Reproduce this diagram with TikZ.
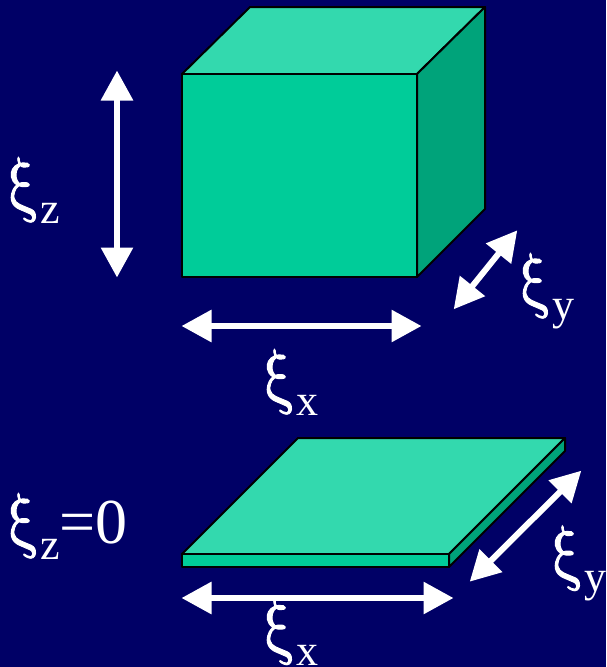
\documentclass[tikz,border=0pt]{standalone}
\usepackage{fontspec}
\setmainfont{Liberation Serif}
\newfontfamily\xifont[FakeBold=1.4,FakeStretch=0.82]{Latin Modern Math}
\usetikzlibrary{arrows.meta}
\definecolor{bgc}{HTML}{000066}
\definecolor{frontc}{HTML}{00CC99}
\definecolor{topc}{HTML}{33D9AE}
\definecolor{sidec}{HTML}{00A37A}
\tikzset{
  face/.style={draw=black,line width=2pt,line join=round},
  dimarrow/.style={draw=white,line width=6pt,{Triangle[length=30pt,width=31pt]}-{Triangle[length=30pt,width=31pt]}},
  lab/.style={text=white,inner sep=0pt,outer sep=0pt,anchor=base west,font=\fontsize{64}{64}\selectfont},
}
\newcommand{\xisym}{\makebox[33pt][l]{\xifont\fontsize{72}{72}\selectfont ξ}}
\newcommand{\subs}[1]{\raisebox{-15.5pt}{\fontsize{44}{44}\selectfont #1}}
\begin{document}
\begin{tikzpicture}[x=1pt,y=-1pt]
\useasboundingbox (0,0) rectangle (606,667);
\fill[bgc] (0,0) rectangle (606,667);
% cube
\draw[face,fill=topc] (182,74) -- (250,7) -- (485,7) -- (417,74) -- cycle;
\draw[face,fill=sidec] (417,74) -- (485,7) -- (485,209) -- (417,277) -- cycle;
\draw[face,fill=frontc] (182,74) rectangle (417,277);
% plate
\draw[face,fill=topc] (182,554) -- (298,438) -- (565,438) -- (449,554) -- cycle;
\draw[face,fill=sidec] (449,554) -- (565,438) -- (565,451) -- (449,567) -- cycle;
\draw[face,fill=frontc] (182,554) rectangle (449,567);
% arrow ends
\coordinate (za) at (117,70.5);
\coordinate (zb) at (117,277.5);
\coordinate (xa) at (181.5,326);
\coordinate (xb) at (421.5,326);
\coordinate (ya) at (453.7,309.3);
\coordinate (yb) at (517.3,230.3);
\coordinate (pxa) at (181.5,598);
\coordinate (pxb) at (453.5,598);
\coordinate (pya) at (469.7,581.7);
\coordinate (pyb) at (581.3,470.7);
\draw[dimarrow] (za) -- (zb);
\draw[dimarrow] (xa) -- (xb);
\draw[dimarrow] (ya) -- (yb);
\draw[dimarrow] (pxa) -- (pxb);
\draw[dimarrow] (pya) -- (pyb);
% labels
\node[lab] (lz) at (7,207.5) {\xisym\subs{z}};
\node[lab] (lx) at (263,399.5) {\xisym\subs{x}};
\node[lab] (ly) at (519,303.5) {\xisym\subs{y}};
\node[lab] (lz0) at (7,543.5) {\xisym\subs{z}=0};
\node[lab] (lpx) at (263,650) {\xisym\subs{x}};
\node[lab] (lpy) at (551,576) {\xisym\subs{y}};
\end{tikzpicture}
\end{document}
